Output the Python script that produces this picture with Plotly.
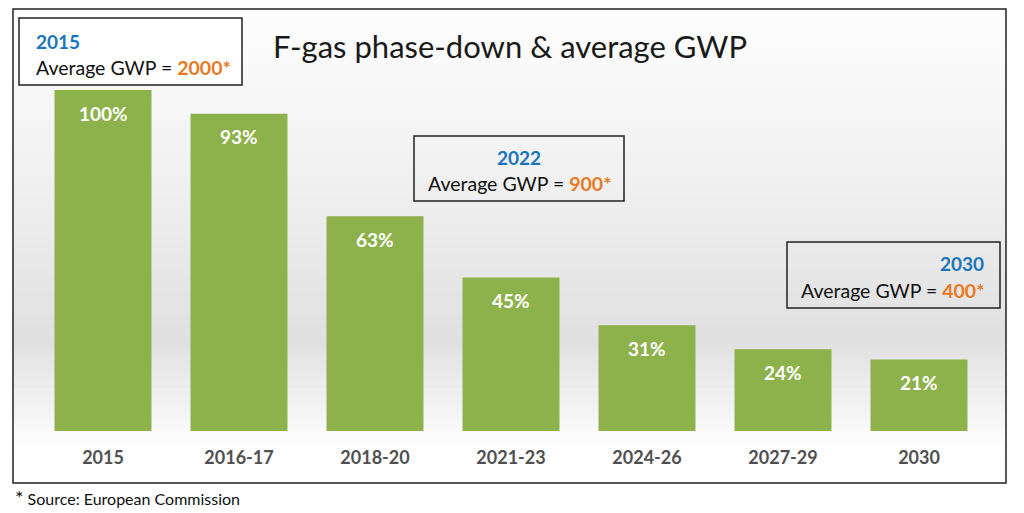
import plotly.graph_objects as go

categories = ["2015", "2016-17", "2018-20", "2021-23", "2024-26", "2027-29", "2030"]
values = [100, 93, 63, 45, 31, 24, 21]
value_labels = ["100%", "93%", "63%", "45%", "31%", "24%", "21%"]

box_years = ["2015", "2022", "2030"]
box_gwp = ["2000*", "900*", "400*"]

# page body has an 8px margin; work in screen pixels and convert
OFF = 8
SW, SH = 1024, 513
W, H = SW - OFF, SH - OFF
PLOT_L, PLOT_R, PLOT_T, PLOT_B = 35, 987, 10, 431
L = PLOT_L - OFF
R = SW - PLOT_R
T = PLOT_T - OFF
B = H - (PLOT_B - OFF)
PW, PH = W - L - R, H - T - B
YMAX = (PLOT_B - PLOT_T) / 341 * 100


def px(x):
    return (x - PLOT_L) / PW


def py(y):
    return (PLOT_B - y) / PH


FONT = "Lato, 'Open Sans', sans-serif"
BLUE = "#1a75bc"
ORANGE = "#e8791f"

fig = go.Figure()
fig.add_trace(go.Bar(
    x=categories, y=values,
    marker=dict(color="#8db14b", line=dict(width=0)),
    hoverinfo="skip",
))

shapes = []
# background gradient bands (decoration)
top, bot = 9, 483
n = 60
for i in range(n):
    y0 = top + (bot - top) * i / n
    y1 = top + (bot - top) * (i + 1) / n
    t = (y0 + y1) / 2
    if t < 340:
        g = 253 - (253 - 224) * ((t - top) / (340 - top)) ** 1.2
    elif t < 450:
        g = 224 + (255 - 224) * ((t - 340) / (450 - 340))
    else:
        g = 255
    g = int(round(g))
    shapes.append(dict(type="rect", xref="paper", yref="paper",
                       x0=px(13), x1=px(1006), y0=py(y1 + 0.5), y1=py(y0),
                       fillcolor=f"rgb({g},{g},{g})", line=dict(width=0), layer="below"))
# outer frame
shapes.append(dict(type="rect", xref="paper", yref="paper",
                   x0=px(13), x1=px(1006), y0=py(483), y1=py(9),
                   line=dict(color="#222", width=1.5), layer="above"))
# boxes
shapes.append(dict(type="rect", xref="paper", yref="paper",
                   x0=px(19), x1=px(242), y0=py(85), y1=py(18),
                   fillcolor="white", line=dict(color="#222", width=1.5), layer="above"))
shapes.append(dict(type="rect", xref="paper", yref="paper",
                   x0=px(414), x1=px(624), y0=py(201), y1=py(136),
                   line=dict(color="#222", width=1.5), layer="above"))
shapes.append(dict(type="rect", xref="paper", yref="paper",
                   x0=px(787), x1=px(1000), y0=py(308), y1=py(242),
                   line=dict(color="#222", width=1.5), layer="above"))

ann = []
for i, (v, lab) in enumerate(zip(values, value_labels)):
    ann.append(dict(x=i, y=v, xref="x", yref="y", text=f"<b>{lab}</b>", showarrow=False,
                    yanchor="middle", yshift=-23,
                    font=dict(family=FONT, size=19, color="white")))

ann.append(dict(x=px(510), y=py(46), xref="paper", yref="paper",
                text="F-gas phase-down &amp; average GWP", showarrow=False,
                xanchor="center", yanchor="middle",
                font=dict(family=FONT, size=31, color="#1a1a1a")))

box_pos = [
    (34, 41, 67, "left"),
    (519, 157, 183, "center"),
    (986, 263, 290, "right"),
]
for (bx, y1, y2, anc), yr, gwp in zip(box_pos, box_years, box_gwp):
    ann.append(dict(x=px(bx), y=py(y1), xref="paper", yref="paper",
                    text=f"<b>{yr}</b>", showarrow=False, xanchor=anc, yanchor="middle",
                    font=dict(family=FONT, size=19, color=BLUE)))
    ann.append(dict(x=px(bx), y=py(y2), xref="paper", yref="paper",
                    text=f"Average GWP = <b><span style='color:{ORANGE}'>{gwp}</span></b>",
                    showarrow=False, xanchor=anc, yanchor="middle",
                    font=dict(family=FONT, size=19.5, color="#111")))

ann.append(dict(x=px(13), y=py(497), xref="paper", yref="paper",
                text="<span style='font-size:20px'>*</span> Source: European Commission",
                showarrow=False, xanchor="left", yanchor="middle",
                font=dict(family=FONT, size=16, color="#111")))

fig.update_layout(
    width=W, height=H,
    margin=dict(l=L, r=R, t=T, b=B),
    paper_bgcolor="white", plot_bgcolor="rgba(0,0,0,0)",
    bargap=0.287,
    showlegend=False,
    shapes=shapes, annotations=ann,
    xaxis=dict(type="category", range=[-0.5, len(categories) - 0.5],
               showgrid=False, zeroline=False, showline=False,
               tickfont=dict(family=FONT, size=18, color="#505050"),
               ticklabelstandoff=14, tickprefix="<b>", ticksuffix="</b>"),
    yaxis=dict(range=[0, YMAX], visible=False, showgrid=False),
)

fig.write_html("out.html")
